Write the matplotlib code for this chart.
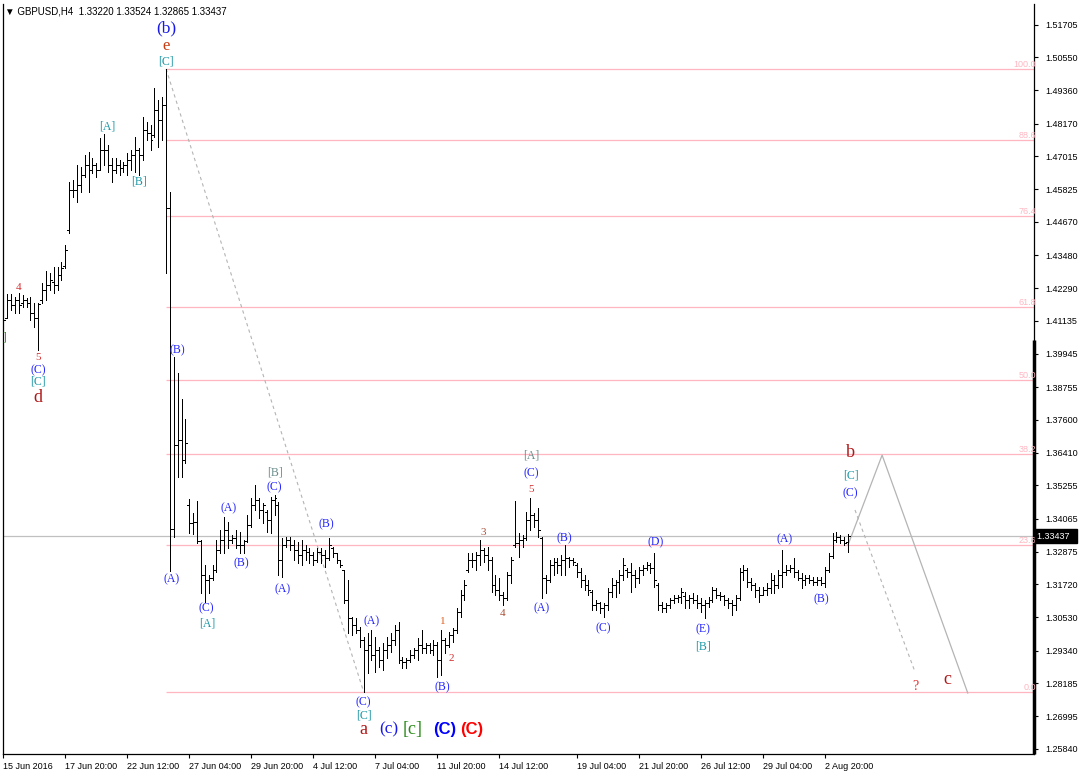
import numpy as np
import matplotlib.pyplot as plt
from matplotlib.transforms import blended_transform_factory

# GBPUSD H4 bars, 15 Jun - 3 Aug 2016
opens = [1.4134, 1.4123, 1.4187, 1.4169, 1.4187, 1.4176, 1.4187, 1.4176, 1.4141, 1.4123,
         1.4187, 1.4223, 1.4241, 1.4251, 1.4241, 1.4276, 1.4309, 1.4437, 1.4580, 1.4580,
         1.4598, 1.4634, 1.4670, 1.4652, 1.4670, 1.4652, 1.4723, 1.4723, 1.4670, 1.4652,
         1.4670, 1.4659, 1.4670, 1.4687, 1.4705, 1.4723, 1.4705, 1.4795, 1.4784, 1.4777,
         1.4866, 1.4830, 1.4884, 1.4516, 1.3369, 1.3669, 1.3687, 1.3615, 1.3455, 1.3390,
         1.3394, 1.3326, 1.3205, 1.3187, 1.3194, 1.3222, 1.3294, 1.3330, 1.3365, 1.3330,
         1.3338, 1.3312, 1.3312, 1.3326, 1.3383, 1.3455, 1.3472, 1.3437, 1.3431, 1.3401,
         1.3472, 1.3455, 1.3258, 1.3312, 1.3330, 1.3312, 1.3294, 1.3276, 1.3294, 1.3287,
         1.3276, 1.3258, 1.3287, 1.3276, 1.3265, 1.3301, 1.3283, 1.3258, 1.3222, 1.3115,
         1.3051, 1.3026, 1.3008, 1.2972, 1.2937, 1.2955, 1.2919, 1.2937, 1.2901, 1.2937,
         1.2955, 1.2972, 1.3008, 1.2901, 1.2894, 1.2901, 1.2919, 1.2937, 1.2955, 1.2944,
         1.2955, 1.2937, 1.2955, 1.2901, 1.2972, 1.2955, 1.2990, 1.3008, 1.3073, 1.3133,
         1.3222, 1.3258, 1.3258, 1.3276, 1.3294, 1.3276, 1.3258, 1.3169, 1.3151, 1.3133,
         1.3122, 1.3205, 1.3312, 1.3319, 1.3330, 1.3338, 1.3401, 1.3419, 1.3401, 1.3338,
         1.3194, 1.3187, 1.3240, 1.3251, 1.3240, 1.3258, 1.3265, 1.3258, 1.3240, 1.3215,
         1.3187, 1.3169, 1.3144, 1.3097, 1.3105, 1.3087, 1.3097, 1.3144, 1.3169, 1.3180,
         1.3205, 1.3222, 1.3215, 1.3205, 1.3194, 1.3222, 1.3229, 1.3240, 1.3229, 1.3169,
         1.3097, 1.3087, 1.3097, 1.3115, 1.3122, 1.3126, 1.3130, 1.3115, 1.3122, 1.3115,
         1.3105, 1.3097, 1.3105, 1.3115, 1.3151, 1.3133, 1.3130, 1.3115, 1.3105, 1.3097,
         1.3122, 1.3215, 1.3222, 1.3180, 1.3169, 1.3151, 1.3133, 1.3151, 1.3158, 1.3187,
         1.3169, 1.3205, 1.3215, 1.3222, 1.3229, 1.3215, 1.3194, 1.3187, 1.3194, 1.3187,
         1.3180, 1.3187, 1.3176, 1.3222, 1.3272, 1.3330, 1.3340, 1.3330, 1.33220]
highs = [1.4148, 1.4209, 1.4209, 1.4198, 1.4212, 1.4205, 1.4194, 1.4198, 1.4176, 1.4176,
         1.4248, 1.4291, 1.4284, 1.4305, 1.4305, 1.4323, 1.4384, 1.4609, 1.4616, 1.4670,
         1.4662, 1.4705, 1.4716, 1.4695, 1.4677, 1.4766, 1.4780, 1.4741, 1.4695, 1.4695,
         1.4687, 1.4680, 1.4712, 1.4723, 1.4770, 1.4730, 1.4841, 1.4823, 1.4812, 1.4945,
         1.4902, 1.4912, 1.5013, 1.4573, 1.3983, 1.3926, 1.3833, 1.3762, 1.3476, 1.3426,
         1.3469, 1.3330, 1.3240, 1.3205, 1.3240, 1.3330, 1.3365, 1.3412, 1.3394, 1.3347,
         1.3365, 1.3358, 1.3330, 1.3419, 1.3480, 1.3526, 1.3480, 1.3462, 1.3437, 1.3483,
         1.3490, 1.3465, 1.3338, 1.3340, 1.3340, 1.3330, 1.3322, 1.3330, 1.3312, 1.3301,
         1.3287, 1.3301, 1.3301, 1.3294, 1.3338, 1.3305, 1.3283, 1.3258, 1.3222, 1.3187,
         1.3055, 1.3051, 1.3019, 1.2983, 1.2997, 1.3008, 1.2983, 1.2947, 1.2962, 1.2983,
         1.2997, 1.3026, 1.3037, 1.2912, 1.2908, 1.2937, 1.2944, 1.2979, 1.3008, 1.2962,
         1.2962, 1.2972, 1.2965, 1.3008, 1.2979, 1.3001, 1.3015, 1.3087, 1.3151, 1.3187,
         1.3283, 1.3283, 1.3287, 1.3330, 1.3301, 1.3305, 1.3269, 1.3205, 1.3194, 1.3144,
         1.3215, 1.3269, 1.3469, 1.3355, 1.3347, 1.3431, 1.3480, 1.3426, 1.3444, 1.3340,
         1.3205, 1.3258, 1.3265, 1.3265, 1.3276, 1.3312, 1.3269, 1.3265, 1.3247, 1.3229,
         1.3205, 1.3187, 1.3151, 1.3115, 1.3108, 1.3105, 1.3158, 1.3194, 1.3187, 1.3222,
         1.3265, 1.3229, 1.3247, 1.3222, 1.3233, 1.3240, 1.3251, 1.3247, 1.3283, 1.3176,
         1.3108, 1.3105, 1.3122, 1.3133, 1.3133, 1.3158, 1.3144, 1.3133, 1.3140, 1.3133,
         1.3122, 1.3115, 1.3126, 1.3162, 1.3158, 1.3144, 1.3133, 1.3122, 1.3115, 1.3133,
         1.3229, 1.3240, 1.3229, 1.3194, 1.3176, 1.3162, 1.3162, 1.3176, 1.3212, 1.3205,
         1.3222, 1.3294, 1.3240, 1.3240, 1.3265, 1.3222, 1.3212, 1.3205, 1.3205, 1.3197,
         1.3197, 1.3197, 1.3233, 1.3283, 1.3355, 1.3358, 1.3347, 1.3340, 1.33524]
lows = [1.4098, 1.4126, 1.4151, 1.4141, 1.4141, 1.4162, 1.4162, 1.4116, 1.4091, 1.4009,
        1.4176, 1.4187, 1.4223, 1.4212, 1.4223, 1.4259, 1.4301, 1.4427, 1.4555, 1.4537,
        1.4573, 1.4627, 1.4573, 1.4641, 1.4627, 1.4652, 1.4670, 1.4644, 1.4609, 1.4641,
        1.4634, 1.4644, 1.4634, 1.4652, 1.4644, 1.4634, 1.4687, 1.4759, 1.4723, 1.4770,
        1.4734, 1.4759, 1.4284, 1.3219, 1.3340, 1.3555, 1.3555, 1.3605, 1.3355, 1.3351,
        1.3319, 1.3140, 1.3108, 1.3140, 1.3187, 1.3215, 1.3283, 1.3283, 1.3301, 1.3319,
        1.3301, 1.3283, 1.3283, 1.3322, 1.3376, 1.3437, 1.3408, 1.3390, 1.3358, 1.3355,
        1.3419, 1.3205, 1.3197, 1.3305, 1.3294, 1.3258, 1.3247, 1.3240, 1.3258, 1.3247,
        1.3240, 1.3251, 1.3247, 1.3233, 1.3258, 1.3269, 1.3247, 1.3233, 1.3105, 1.2997,
        1.2990, 1.2997, 1.2947, 1.2787, 1.2854, 1.2901, 1.2858, 1.2876, 1.2865, 1.2908,
        1.2929, 1.2955, 1.2890, 1.2872, 1.2872, 1.2894, 1.2908, 1.2901, 1.2926, 1.2926,
        1.2926, 1.2919, 1.2840, 1.2847, 1.2926, 1.2947, 1.2965, 1.2997, 1.3055, 1.3115,
        1.3215, 1.3233, 1.3222, 1.3240, 1.3251, 1.3222, 1.3144, 1.3133, 1.3115, 1.3097,
        1.3115, 1.3176, 1.3305, 1.3269, 1.3305, 1.3330, 1.3365, 1.3376, 1.3340, 1.3122,
        1.3140, 1.3180, 1.3205, 1.3212, 1.3205, 1.3205, 1.3233, 1.3240, 1.3197, 1.3162,
        1.3151, 1.3133, 1.3080, 1.3080, 1.3069, 1.3055, 1.3080, 1.3126, 1.3126, 1.3140,
        1.3187, 1.3197, 1.3144, 1.3162, 1.3176, 1.3205, 1.3222, 1.3212, 1.3162, 1.3080,
        1.3073, 1.3073, 1.3087, 1.3105, 1.3108, 1.3105, 1.3087, 1.3087, 1.3105, 1.3087,
        1.3073, 1.3051, 1.3090, 1.3108, 1.3122, 1.3115, 1.3097, 1.3087, 1.3062, 1.3080,
        1.3115, 1.3187, 1.3162, 1.3151, 1.3126, 1.3108, 1.3133, 1.3133, 1.3140, 1.3140,
        1.3158, 1.3162, 1.3205, 1.3215, 1.3197, 1.3187, 1.3158, 1.3169, 1.3176, 1.3169,
        1.3169, 1.3169, 1.3162, 1.3215, 1.3265, 1.3322, 1.3319, 1.3312, 1.32865]
closes = [1.4116, 1.4187, 1.4169, 1.4187, 1.4169, 1.4187, 1.4176, 1.4141, 1.4123, 1.4173,
          1.4223, 1.4241, 1.4259, 1.4241, 1.4276, 1.4301, 1.4366, 1.4580, 1.4580, 1.4598,
          1.4634, 1.4670, 1.4652, 1.4670, 1.4652, 1.4723, 1.4723, 1.4670, 1.4652, 1.4670,
          1.4659, 1.4670, 1.4687, 1.4705, 1.4723, 1.4705, 1.4795, 1.4784, 1.4759, 1.4866,
          1.4830, 1.4884, 1.4516, 1.3369, 1.3669, 1.3687, 1.3615, 1.3676, 1.3390, 1.3394,
          1.3326, 1.3205, 1.3187, 1.3194, 1.3222, 1.3294, 1.3330, 1.3365, 1.3330, 1.3338,
          1.3312, 1.3312, 1.3326, 1.3383, 1.3455, 1.3472, 1.3437, 1.3455, 1.3401, 1.3472,
          1.3480, 1.3258, 1.3312, 1.3330, 1.3312, 1.3294, 1.3276, 1.3294, 1.3287, 1.3276,
          1.3258, 1.3287, 1.3276, 1.3265, 1.3312, 1.3283, 1.3258, 1.3240, 1.3115, 1.3051,
          1.3026, 1.3008, 1.2972, 1.2937, 1.2955, 1.2919, 1.2937, 1.2901, 1.2937, 1.2955,
          1.2972, 1.3008, 1.2901, 1.2894, 1.2901, 1.2919, 1.2937, 1.2955, 1.2944, 1.2955,
          1.2937, 1.2955, 1.2901, 1.2972, 1.2955, 1.2990, 1.3008, 1.3073, 1.3133, 1.3169,
          1.3258, 1.3258, 1.3276, 1.3294, 1.3276, 1.3258, 1.3169, 1.3151, 1.3133, 1.3122,
          1.3205, 1.3258, 1.3319, 1.3330, 1.3338, 1.3401, 1.3419, 1.3401, 1.3365, 1.3194,
          1.3187, 1.3240, 1.3251, 1.3240, 1.3258, 1.3265, 1.3258, 1.3251, 1.3215, 1.3187,
          1.3169, 1.3151, 1.3097, 1.3105, 1.3087, 1.3097, 1.3144, 1.3169, 1.3180, 1.3205,
          1.3240, 1.3215, 1.3205, 1.3194, 1.3222, 1.3229, 1.3240, 1.3229, 1.3187, 1.3097,
          1.3087, 1.3097, 1.3115, 1.3122, 1.3126, 1.3144, 1.3115, 1.3122, 1.3115, 1.3105,
          1.3097, 1.3105, 1.3115, 1.3151, 1.3133, 1.3130, 1.3115, 1.3105, 1.3097, 1.3122,
          1.3215, 1.3222, 1.3180, 1.3169, 1.3151, 1.3133, 1.3151, 1.3158, 1.3187, 1.3169,
          1.3205, 1.3215, 1.3222, 1.3229, 1.3215, 1.3194, 1.3187, 1.3194, 1.3187, 1.3180,
          1.3187, 1.3176, 1.3222, 1.3272, 1.3330, 1.3340, 1.3330, 1.3319, 1.33437]

time_ticks = [0, 16, 32, 48, 64, 80, 96, 112, 128, 148, 164, 180, 196, 212]
time_labels = ['15 Jun 2016', '17 Jun 20:00', '22 Jun 12:00', '27 Jun 04:00', '29 Jun 20:00',
               '4 Jul 12:00', '7 Jul 04:00', '11 Jul 20:00', '14 Jul 12:00', '19 Jul 04:00',
               '21 Jul 20:00', '26 Jul 12:00', '29 Jul 04:00', '2 Aug 20:00']
price_ticks = [1.51705, 1.50550, 1.49360, 1.48170, 1.47015, 1.45825, 1.44670, 1.43480,
               1.42290, 1.41135, 1.39945, 1.38755, 1.37600, 1.36410, 1.35255, 1.34065,
               1.32875, 1.31720, 1.30530, 1.29340, 1.28185, 1.26995, 1.25840]

fib_levels = [0.0, 23.6, 38.2, 50.0, 61.8, 76.4, 88.6, 100.0]
fib_top_bar = 42
fib_bottom_bar = 93

# hand drawn projection after the last bar
proj_bars = [218, 226.8, 248.9]
proj_prices = [1.3312, 1.3633, 1.2783]
alt_bars = [219.8, 235.3]
alt_prices = [1.3437, 1.2858]

# wave labels: bar, anchor (h = above high, l = below low), dx px, dy px, text, style
wave_labels = [
    (42, 'h', 0, 7, '[C]', 'teal'), (42, 'h', 0, 23, 'e', 'bigorange'), (42, 'h', 0, 41, '(b)', 'bigblue'),
    (26, 'h', 3, 8, '[A]', 'teal'), (35, 'l', 0, -7, '[B]', 'teal'),
    (4, 'h', 0, 6, '4', 'num_red'), (9, 'l', 0, -8, '5', 'num_red'),
    (9, 'l', 0, -20, '(C)', 'blue'), (9, 'l', 0, -32, '[C]', 'teal'), (9, 'l', 0, -48, 'd', 'bigred'),
    (0, 'l', 1, -13, ']', 'green'),
    (43, 'l', 2, -8, '(A)', 'blue'), (44, 'h', 4, 7, '(B)', 'blue'),
    (52, 'l', 1, -6, '(C)', 'blue'), (52, 'l', 2, -21, '[A]', 'teal'),
    (57, 'h', 4, 9, '(A)', 'blue'), (61, 'l', 2, -10, '(B)', 'blue'),
    (70, 'h', 0, 8, '(C)', 'blue'), (70, 'h', 0, 23, '[B]', 'gray'),
    (72, 'l', 0, -12, '(A)', 'blue'), (84, 'h', -2, 13, '(B)', 'blue'),
    (93, 'l', 0, -10, '(C)', 'blue'), (93, 'l', 0, -24, '[C]', 'teal'), (93, 'l', 0, -38, 'a', 'bigred'),
    (93, 'l', 25, -38, '(c)', 'bigblue'), (93, 'l', 49, -38, '[c]', 'biggreen'),
    (93, 'l', 81, -38, '(C)', 'boldblue'), (93, 'l', 108, -38, '(C)', 'boldred'),
    (95, 'h', 0, 9, '(A)', 'blue'),
    (113, 'l', 1, -12, '(B)', 'blue'), (113, 'h', 2, 9, '1', 'num_orange'),
    (115, 'l', 2, -11, '2', 'num_red'), (123, 'h', 3, 7, '3', 'num_brown'),
    (129, 'l', -1, -8, '4', 'num_brown'), (136, 'h', 1, 8, '5', 'num_red'),
    (136, 'h', 1, 25, '(C)', 'blue'), (136, 'h', 1, 42, '[A]', 'gray'),
    (139, 'l', 0, -10, '(A)', 'blue'), (145, 'h', -1, 7, '(B)', 'blue'),
    (155, 'l', -1, -11, '(C)', 'blue'), (168, 'h', 1, 11, '(D)', 'blue'),
    (181, 'l', -2, -11, '(E)', 'blue'), (181, 'l', -2, -29, '[B]', 'teal'),
    (201, 'h', 2, 11, '(A)', 'blue'), (212, 'l', -3, -12, '(B)', 'blue'),
    (218, 'h', 2, 81, 'b', 'bigred'), (218, 'h', 3, 58, '[C]', 'teal'), (218, 'h', 2, 40, '(C)', 'blue'),
]

serif = 'Liberation Serif'
styles = {
    'blue': dict(color='#2626ff', fontsize=8.5, family=serif),
    'teal': dict(color='#1c98a6', fontsize=8.5, family=serif),
    'gray': dict(color='#6a8c8c', fontsize=8.5, family=serif),
    'green': dict(color='#2a8a1a', fontsize=8.5, family=serif),
    'num_red': dict(color='#d23030', fontsize=8, family=serif),
    'num_brown': dict(color='#a85038', fontsize=8, family=serif),
    'num_orange': dict(color='#e0601e', fontsize=8, family=serif),
    'bigred': dict(color='#b01818', fontsize=13, family=serif),
    'bigorange': dict(color='#c83c14', fontsize=12, family=serif),
    'bigblue': dict(color='#1818e8', fontsize=12.5, family=serif),
    'biggreen': dict(color='#2a8a1a', fontsize=13, family=serif),
    'boldblue': dict(color='#0000ff', fontsize=12, family='Liberation Sans', weight='bold'),
    'boldred': dict(color='#ff0000', fontsize=12, family='Liberation Sans', weight='bold'),
}

W, H = 1081, 775
fig = plt.figure(figsize=(W / 100, H / 100), dpi=100)
ax = fig.add_axes([3 / W, 21 / H, 1031 / W, 750 / H])
ax.set_xlim(-0.08, 266.0)
ax.set_ylim(1.2565, 1.5245)

idx = np.arange(len(closes))
pink = '#ffb6c1'

# fibonacci retracement
fib_hi = highs[fib_top_bar]
fib_lo = lows[fib_bottom_bar]
right_edge = blended_transform_factory(ax.transAxes, ax.transData)
for lvl in fib_levels:
    price = fib_lo + (fib_hi - fib_lo) * lvl / 100.0
    ax.hlines(price, fib_top_bar, 266.0, color=pink, lw=0.9)
    ax.text(1.002, price, '%.1f' % lvl, transform=right_edge, ha='right', va='bottom',
            color=pink, fontsize=6.5, family='Liberation Sans')

# current price line
ax.axhline(closes[-1], color='#c0c0c0', lw=0.9)

# dashed trendline between the [C] extremes
ax.plot([fib_top_bar, fib_bottom_bar], [fib_hi, fib_lo], color='#b4b4b4', lw=0.8, ls=(0, (3, 3)))

# projection lines
ax.plot(proj_bars, proj_prices, color='#b4b4b4', lw=0.9)
ax.plot(alt_bars, alt_prices, color='#b4b4b4', lw=0.8, ls=(0, (3, 3)))

# OHLC bars
ax.vlines(idx, lows, highs, color='black', lw=0.72, antialiased=False)
ax.hlines(opens, idx - 0.5, idx, color='black', lw=0.72, antialiased=False)
ax.hlines(closes, idx, idx + 0.5, color='black', lw=0.72, antialiased=False)

for bar, side, dx, dy, txt, st in wave_labels:
    y = highs[bar] if side == 'h' else lows[bar]
    ax.annotate(txt, xy=(bar, y), xytext=(dx, dy), textcoords='offset pixels',
                ha='center', va='center', annotation_clip=False, **styles[st])

ax.annotate('?', xy=(alt_bars[-1], alt_prices[-1]), xytext=(0, -14), textcoords='offset pixels',
            ha='center', va='center', color='#e03030', fontsize=10, family=serif)
ax.annotate('c', xy=(proj_bars[-1], proj_prices[-1]), xytext=(-20, 13), textcoords='offset pixels',
            ha='center', va='center', **styles['bigred'])

# axes cosmetics
ax.spines['top'].set_visible(False)
for s in ['left', 'right', 'bottom']:
    ax.spines[s].set_linewidth(0.9)
ax.plot([1, 1], [0, 0.552], transform=ax.transAxes, color='black', lw=2.5,
        clip_on=False, solid_capstyle='butt')

ax.yaxis.tick_right()
ax.set_yticks(price_ticks)
ax.set_yticklabels(['%.5f' % p for p in price_ticks])
ax.tick_params(axis='y', direction='out', length=3, width=0.8, labelsize=6.5, pad=5)
ax.set_xticks(time_ticks)
ax.set_xticklabels(time_labels, ha='left')
ax.tick_params(axis='x', direction='out', length=3, width=0.8, labelsize=6.5, pad=3)
for lab in ax.get_xticklabels() + ax.get_yticklabels():
    lab.set_family('Liberation Sans')

ax.text(1.003, closes[-1], '%.5f  ' % closes[-1], transform=right_edge, ha='left', va='center',
        color='white', fontsize=6.5, family='Liberation Sans',
        bbox=dict(boxstyle='square,pad=0.25', fc='black', ec='black'))

fig.text(5 / W, 1 - 11 / H, '\u25bc GBPUSD,H4  1.33220 1.33524 1.32865 1.33437',
         fontsize=7, va='center', family=['Liberation Sans', 'DejaVu Sans'])

fig.savefig('out.png', dpi=100)
